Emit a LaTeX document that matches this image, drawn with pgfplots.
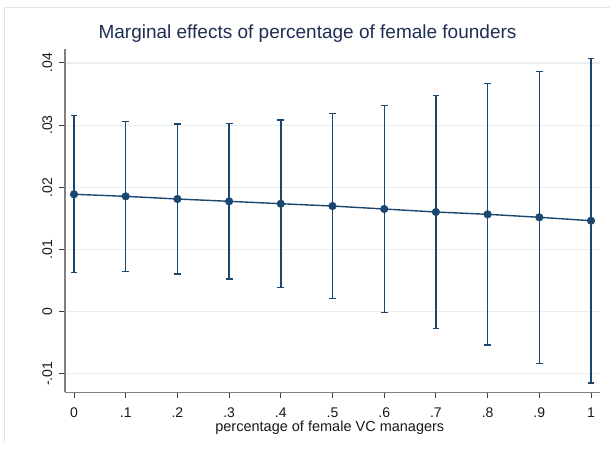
\documentclass[border=0pt]{standalone}
\usepackage{fontspec}
\setmainfont{Liberation Sans}
\usepackage{pgfplots}
\usepackage{pgfplotstable}
\pgfplotsset{compat=1.18}
\definecolor{navy}{RGB}{26,71,111}
\definecolor{titlec}{RGB}{30,45,83}
\definecolor{gridc}{RGB}{230,238,240}
\definecolor{framec}{RGB}{222,232,236}
\pgfplotstableread{
x    y       e
0    0.01888 0.01262
0.1  0.01855 0.01208
0.2  0.01812 0.01204
0.3  0.01775 0.01251
0.4  0.01736 0.01348
0.5  0.01699 0.01490
0.6  0.01651 0.01664
0.7  0.01603 0.01871
0.8  0.01566 0.02103
0.9  0.01518 0.02348
1    0.01463 0.02608
}\margins
\begin{document}
\begin{tikzpicture}
\path[use as bounding box] (0,0) rectangle (610bp,449bp);
\draw[framec, line width=1bp] (4bp,6bp) -- (4bp,441bp) -- (610bp,441bp);
\begin{axis}[
  at={(65bp,56.7bp)}, anchor=south west,
  scale only axis, width=535bp, height=343.3bp,
  xmin=-0.0174, xmax=1.0174, ymin=-0.01296, ymax=0.04224,
  axis x line=bottom, axis y line=left,
  axis line style={-, color=black!50, line width=1.3bp},
  tick align=outside, major tick length=6bp,
  tick style={color=black!75, line width=0.9bp},
  scaled y ticks=false, scaled x ticks=false,
  xtick={0,0.1,0.2,0.3,0.4,0.5,0.6,0.7,0.8,0.9,1},
  xticklabels={0,.1,.2,.3,.4,.5,.6,.7,.8,.9,1},
  ytick={-0.01,0,0.01,0.02,0.03,0.04},
  yticklabels={-.01,0,.01,.02,.03,.04},
  minor tick num=0,
  ymajorgrids, major grid style={color=gridc, line width=1.2bp},
  ticklabel style={font=\fontsize{14bp}{16bp}\selectfont, color=black!90, inner sep=0pt},
  xticklabel style={anchor=base, yshift=-18.7bp},
  yticklabel style={xshift=-6.5bp, rotate=90, anchor=south},
  xlabel={percentage of female VC managers},
  xlabel style={font=\fontsize{14.5bp}{17bp}\selectfont, color=black!90, anchor=base, at={(axis description cs:0.495,-0.1156)}, inner sep=0pt},
  title={Marginal effects of percentage of female founders},
  title style={font=\fontsize{19bp}{22bp}\selectfont, color=titlec, anchor=base, at={(axis description cs:0.4533,1.0146)}, inner sep=0pt},
  clip=false,
]
\addplot[navy, line width=1.4bp, mark=*, mark size=3.8bp, mark options={fill=navy, draw=navy, line width=0.5bp},
  error bars/.cd, y dir=both, y explicit,
  error bar style={line width=1.4bp, navy},
  error mark options={rotate=90, mark size=3.4bp, line width=1.4bp, navy}]
  table[x=x, y=y, y error=e] {\margins};
\end{axis}
\end{tikzpicture}
\end{document}
